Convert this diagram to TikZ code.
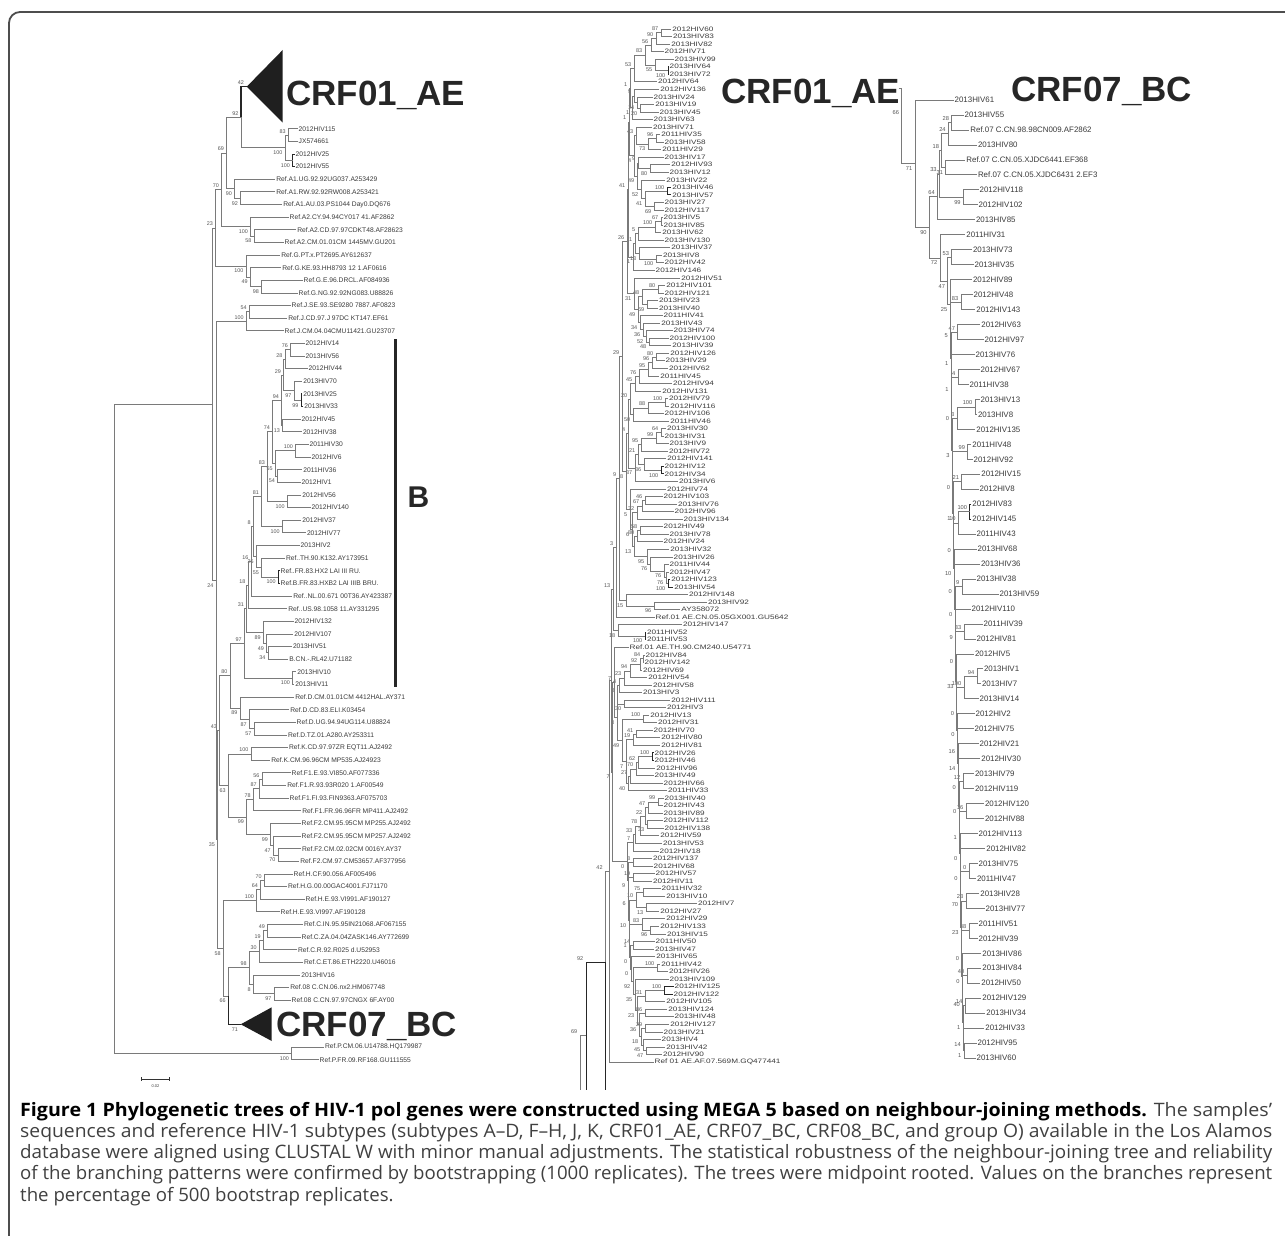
\documentclass[tikz,border=0pt]{standalone}
\usepackage{tikz}
\usepackage{graphicx}
\usepackage{fontspec}
\setmainfont{Liberation Sans}
\newfontfamily\capfont{Open Sans}
\usetikzlibrary{calc}

\definecolor{brcol}{HTML}{7A7A7A}
\definecolor{lfcol}{HTML}{3A3A3A}
\definecolor{bscol}{HTML}{555555}
\definecolor{framecol}{HTML}{4D4D4D}
\definecolor{bigcol}{HTML}{262626}
\definecolor{capcol}{HTML}{404040}

\newsavebox\capbox
\newlength\capL
\newcommand{\bsfont}{\fontsize{5.4}{5.4}\selectfont}
% bootstrap value of a node, set when the node is made
\newcommand{\setbl}[2]{\expandafter\xdef\csname bl@#1\endcsname{#2}}
\newcommand{\bslabel}[2]{\ifcsname bl@#1\endcsname\node[#2] at (#1) {\csname bl@#1\endcsname};\fi}
% inner node: [style]{name}{x}{upper child}{lower child}{bootstrap}
\newcommand{\nd}[6][br]{%
  \coordinate (#2-m) at ($(#4)!0.5!(#5)$);
  \coordinate (#2-x) at (#3,0);
  \coordinate (#2) at (#2-x |- #2-m);
  \draw[#1] (#2) |- (#4);
  \draw[#1] (#2) |- (#5);
  \setbl{#2}{#6}%
  \bslabel{#4}{bsa}\bslabel{#5}{bsb}%
}

\begin{document}
\sbox\capbox{\capfont\fontsize{18.5}{18.5}\selectfont of the branching patterns were confirmed by bootstrapping (1000 replicates). The trees were midpoint rooted. Values on the branches represent}%
\setlength\capL{\wd\capbox}%
\pgfmathsetmacro\capsx{1252/\capL}%
\begin{tikzpicture}[x=1pt, y=-1pt,
    br/.style={draw=brcol, line width=0.75pt},
    blk/.style={draw=black!85, line width=0.9pt},
    bsa/.style={anchor=south east, xshift=-2.2pt, yshift=1.4pt, inner sep=0.3pt, font=\bsfont, text=bscol},
    bsb/.style={anchor=north east, xshift=-2.2pt, yshift=-2.6pt, inner sep=0.3pt, font=\bsfont, text=bscol},
    lfa/.style={anchor=west, inner sep=1pt, font=\fontsize{6.7}{6.7}\selectfont, text=lfcol},
    lfm/.style={anchor=west, inner sep=1pt, font=\fontsize{8.2}{8.2}\selectfont, text=lfcol},
    lfr/.style={anchor=west, inner sep=1pt, font=\fontsize{7.9}{7.9}\selectfont, text=lfcol},
    big/.style={anchor=base west, inner sep=0pt, font=\fontsize{35}{35}\selectfont\bfseries, text=bigcol},
    capl/.style={anchor=base west, inner sep=0pt, font=\capfont\fontsize{18.5}{18.5}\selectfont, text=capcol}
  ]
\useasboundingbox (0,0) rectangle (1285,1236);

% ----- frame -----
\coordinate (fbl) at (9,1236);
\coordinate (ftl) at (9,12);
\coordinate (ftr) at (1285,12);
\draw[framecol, line width=1.8pt, rounded corners=11pt] (fbl) -- (ftl) -- (ftr);

% ===== left tree =====
\foreach \i/\x/\t in {0/299/2012HIV115, 1/299/JX574661, 2/296/2012HIV25, 3/296/2012HIV55,
    4/276.7/Ref.A1.UG.92.92UG037.A253429, 5/276.7/Ref.A1.RW.92.92RW008.A253421,
    6/283.7/Ref.A1.AU.03.PS1044 Day0.DQ676, 7/290/Ref.A2.CY.94.94CY017 41.AF2862,
    8/297.7/Ref.A2.CD.97.97CDKT48.AF28623, 9/285/Ref.A2.CM.01.01CM 1445MV.GU201,
    10/281.7/Ref.G.PT.x.PT2695.AY612637, 11/282.7/Ref.G.KE.93.HH8793 12 1.AF0616,
    12/304/Ref.G.E.96.DRCL.AF084936, 13/299/Ref.G.NG.92.92NG083.U88826,
    14/292/Ref.J.SE.93.SE9280 7887.AF0823, 15/288.7/Ref.J.CD.97.J 97DC KT147.EF61,
    16/285/Ref.J.CM.04.04CMU11421.GU23707, 17/306/2012HIV14, 18/306/2013HIV56,
    19/309/2012HIV44, 20/303.7/2013HIV70, 21/303.7/2013HIV25, 22/304.7/2013HIV33,
    23/302/2012HIV45, 24/303.3/2012HIV38, 25/310/2011HIV30, 26/312/2012HIV6,
    27/303.7/2011HIV36, 28/302/2012HIV1, 29/302.7/2012HIV56, 30/312/2012HIV140,
    31/302.7/2012HIV37, 32/307.3/2012HIV77, 33/301/2013HIV2,
    34/286.3/Ref..TH.90.K132.AY173951, 35/281/Ref..FR.83.HX2 LAI III RU.,
    36/281/Ref.B.FR.83.HXB2 LAI IIIB BRU., 37/293.7/Ref..NL.00.671 00T36.AY423387,
    38/288.7/Ref..US.98.1058 11.AY331295, 39/295/2012HIV132, 40/294.7/2012HIV107,
    41/293.3/2013HIV51, 42/289.7/B.CN.-.RL42.U71182, 43/297.7/2013HIV10, 44/295.7/2013HIV11,
    45/295.7/Ref.D.CM.01.01CM 4412HAL.AY371, 46/290.7/Ref.D.CD.83.ELI.K03454,
    47/297/Ref.D.UG.94.94UG114.U88824, 48/288.3/Ref.D.TZ.01.A280.AY253311,
    49/289.3/Ref.K.CD.97.97ZR EQT11.AJ2492, 50/271.7/Ref.K.CM.96.96CM MP535.AJ24923,
    51/292/Ref.F1.E.93.VI850.AF077336, 52/287.7/Ref.F1.R.93.93R020 1.AF00549,
    53/290/Ref.F1.FI.93.FIN9363.AF075703, 54/302.7/Ref.F1.FR.96.96FR MP411.AJ2492,
    55/302/Ref.F2.CM.95.95CM MP255.AJ2492, 56/302/Ref.F2.CM.95.95CM MP257.AJ2492,
    57/302.3/Ref.F2.CM.02.02CM 0016Y.AY37, 58/300.7/Ref.F2.CM.97.CM53657.AF377956,
    59/294/Ref.H.CF.90.056.AF005496, 60/288.3/Ref.H.G.00.00GAC4001.FJ71170,
    61/306/Ref.H.E.93.VI991.AF190127, 62/281/Ref.H.E.93.VI997.AF190128,
    63/304.3/Ref.C.IN.95.95IN21068.AF067155, 64/302/Ref.C.ZA.04.04ZASK146.AY772699,
    65/298.3/Ref.C.R.92.R025 d.U52953, 66/304.3/Ref.C.ET.86.ETH2220.U46016,
    67/301.7/2013HIV16, 68/290.7/Ref.08 C.CN.06.nx2.HM067748,
    69/292/Ref.08 C.CN.97.97CNGX 6F.AY00}{
  \coordinate (a\i) at ({\x-1.5},{128.7+12.63*\i});
  \node[lfa] (ta\i) at (a\i) {\t};
}
\coordinate (ap1) at (323.8,1047);
\node[lfa] (tap1) at (ap1) {Ref.P.CM.06.U14788.HQ179987};
\coordinate (ap2) at (318.5,1059.7);
\node[lfa] (tap2) at (ap2) {Ref.P.FR.09.RF168.GU111555};

% collapsed clades
\coordinate (lt01) at (246.7,86.7);
\fill[black!88] (lt01) -- (282.7,50) -- (282.7,122.7) -- cycle;
\coordinate (lt07) at (240.7,1024.3);
\fill[black!88] (lt07) -- (271.7,1007.3) -- (271.7,1041) -- cycle;
\setbl{lt01}{42}
\setbl{lt07}{71}

% A, G, J
\nd{lc01}{288.3}{a0}{a1}{83}
\nd[blk]{lc23}{292.7}{a2}{a3}{100}
\nd{lcA}{285}{lc01}{lc23}{100}
\nd{ln42}{241}{lt01}{lcA}{92}
\nd{la1b}{240.7}{a5}{a6}{92}
\nd{la1}{234.7}{a4}{la1b}{90}
\nd{ln69}{226.7}{ln42}{la1}{69}
\nd{la2b}{254}{a8}{a9}{58}
\nd{la2}{250.7}{a7}{la2b}{100}
\nd{ln70}{221.7}{ln69}{la2}{70}
\nd{lg2}{261.7}{a12}{a13}{98}
\nd{lg1}{250.3}{a11}{lg2}{49}
\nd{lg}{246}{a10}{lg1}{100}
\nd{ln23}{215.7}{ln70}{lg}{23}
\nd{lj1}{249.3}{a14}{a15}{54}
\nd{lj}{246.3}{lj1}{a16}{100}
% B
\nd{lb1}{290.7}{a17}{a18}{76}
\nd{lb2}{285}{lb1}{a19}{28}
\nd[blk]{lb3}{301}{a21}{a22}{99}
\nd{lb4}{294}{a20}{lb3}{97}
\nd{lb5}{283.7}{lb2}{lb4}{29}
\nd{lb6}{282.7}{a23}{a24}{13}
\nd{lb7}{281.7}{lb5}{lb6}{94}
\nd{lb10}{295.7}{a25}{a26}{100}
\nd{lb11}{277.7}{a27}{a28}{54}
\nd{lb12}{275.3}{lb10}{lb11}{55}
\nd{lb8}{272.7}{lb7}{lb12}{74}
\nd{lb13}{287.3}{a29}{a30}{100}
\nd{lb14}{267.7}{lb8}{lb13}{83}
\nd{lb15}{282.3}{a31}{a32}{100}
\nd{lb16}{261.7}{lb14}{lb15}{81}
\nd[blk]{lb17}{278.3}{a35}{a36}{100}
\nd{lb18}{261.7}{a34}{lb17}{55}
\nd{lb19}{256.3}{a33}{lb18}{25}
\nd{lb20}{253.3}{lb16}{lb19}{8}
\nd{lb21}{251}{lb20}{a37}{16}
\nd{lb22}{248}{lb21}{a38}{18}
\nd{lb23}{268}{a41}{a42}{34}
\nd{lb24}{266.7}{a40}{lb23}{49}
\nd{lb25}{263.3}{a39}{lb24}{89}
\nd{lb27}{246.7}{lb22}{lb25}{31}
\nd{lb26}{292.7}{a43}{a44}{100}
\nd{lb28}{244.3}{lb27}{lb26}{97}
% D, K, F
\nd{ld3}{254}{a47}{a48}{57}
\nd{ld2}{249.3}{a46}{ld3}{87}
\nd{ld1}{240}{a45}{ld2}{89}
\nd{ln80}{230}{lb28}{ld1}{80}
\nd{lk}{251}{a49}{a50}{100}
\nd{lf1a}{262}{a51}{a52}{56}
\nd{lf1b}{259.3}{lf1a}{a53}{87}
\nd{lf1}{253.3}{lf1b}{a54}{78}
\nd{lf2c}{278}{a57}{a58}{70}
\nd{lf2b}{273.3}{a56}{lf2c}{47}
\nd{lf2}{270.7}{a55}{lf2b}{99}
\nd{lf}{246.7}{lf1}{lf2}{99}
\nd{ln63}{228.3}{lk}{lf}{63}
\nd{ln43}{219.5}{ln80}{ln63}{43}
% H, C
\nd{lh1}{264.3}{a59}{a60}{70}
\nd{lh2}{260.7}{lh1}{a61}{64}
\nd{lh}{256.7}{lh2}{a62}{100}
\nd{lc1}{267.7}{a63}{a64}{49}
\nd{lc2}{263.3}{lc1}{a65}{19}
\nd{lc3}{259.3}{lc2}{a66}{30}
\nd{lc08}{274}{a68}{a69}{97}
\nd{lcb}{253.3}{a67}{lc08}{8}
\nd{lC}{249.3}{lc3}{lcb}{98}
\nd{ln66}{228.3}{lC}{lt07}{66}
\nd{ln58}{223.3}{lh}{ln66}{58}
\nd{ln35}{217.5}{ln43}{ln58}{35}
\nd{ln24}{216}{lj}{ln35}{24}
\nd{lTop}{212.3}{ln23}{ln24}{}
\nd{lP}{291.7}{ap1}{ap2}{100}
\nd{lroot}{114.7}{lTop}{lP}{}
\draw[blk, line width=1.1pt] (ln42) |- (lt01);
\draw[blk, line width=1.1pt] (ln66) |- (lt07);

% labels and bar
\node[big] (crfA) at (286,106) {CRF01\_AE};
\node[big] (crfB) at (276,1036.5) {CRF07\_BC};
\coordinate (bTop) at (395,339);
\coordinate (bBot) at (395,686.7);
\draw[black!85, line width=3pt] (bTop) -- (bBot);
\node[anchor=base west, inner sep=0pt, font=\fontsize{30}{30}\selectfont\bfseries, text=bigcol] (subB) at (407.5,507.5) {B};

% scale bar
\coordinate (sb1) at (141.7,1079);
\coordinate (sb2) at (169.3,1079);
\draw[black!80, line width=0.8pt] (sb1) -- (sb2);
\draw[black!80, line width=0.8pt] ([yshift=2pt]sb1) -- ([yshift=-2pt]sb1);
\draw[black!80, line width=0.8pt] ([yshift=2pt]sb2) -- ([yshift=-2pt]sb2);
\node[font=\fontsize{4}{4}\selectfont, text=lfcol, inner sep=0pt] (sbl) at (155.5,1086.5) {0.02};

% ===== middle tree =====
\renewcommand{\bsfont}{\fontsize{5.5}{5.5}\selectfont}
\tikzset{br/.style={draw=brcol, line width=0.6pt}}
\foreach \i/\x/\t in {0/672.7/2012HIV60, 1/673.3/2013HIV83, 2/671.7/2013HIV82, 3/665/2012HIV71,
    4/675/2013HIV99, 5/670/2013HIV64, 6/670/2013HIV72, 7/658.3/2012HIV64, 8/660.7/2012HIV136,
    9/654/2013HIV24, 10/655.7/2013HIV19, 11/660/2013HIV45, 12/654/2013HIV63, 13/653.3/2013HIV71,
    14/661.7/2011HIV35, 15/665/2013HIV58, 16/662.7/2011HIV29, 17/665/2013HIV17, 18/671.7/2012HIV93,
    19/670/2013HIV12, 20/666.7/2013HIV22, 21/672.7/2013HIV46, 22/672.7/2013HIV57, 23/665/2013HIV27,
    24/665/2012HIV117, 25/664/2013HIV5, 26/664/2013HIV85, 27/662.7/2013HIV62, 28/665/2013HIV130,
    29/671.7/2013HIV37, 30/663.3/2013HIV8, 31/665/2012HIV42, 32/656/2012HIV146, 33/681.7/2012HIV51,
    34/666.7/2012HIV101, 35/665/2012HIV121, 36/659.3/2013HIV23, 37/659.3/2013HIV40, 38/664/2011HIV41,
    39/661.7/2013HIV43, 40/674/2013HIV74, 41/670/2012HIV100, 42/672.7/2013HIV39, 43/670.7/2012HIV126,
    44/666/2013HIV29, 45/669.3/2012HIV62, 46/660.7/2011HIV45, 47/673.3/2012HIV94, 48/662.7/2012HIV131,
    49/669.3/2012HIV79, 50/670.7/2012HIV116, 51/665/2012HIV106, 52/670.7/2011HIV46, 53/667.3/2013HIV30,
    54/665/2013HIV31, 55/670/2013HIV9, 56/669.3/2012HIV72, 57/667.7/2012HIV141, 58/665/2012HIV12,
    59/665/2012HIV34, 60/679.3/2013HIV6, 61/667.3/2012HIV74, 62/664/2012HIV103, 63/678.3/2013HIV76,
    64/675/2012HIV96, 65/684/2013HIV134, 66/664/2012HIV49, 67/670/2013HIV78, 68/664/2012HIV24,
    69/670.7/2013HIV32, 70/674/2013HIV26, 71/670/2011HIV44, 72/670/2012HIV47, 73/671.7/2012HIV123,
    74/674.7/2013HIV54, 75/689.3/2012HIV148, 76/708.3/2013HIV92, 77/681.7/AY358072,
    78/656/Ref.01 AE.CN.05.05GX001.GU5642, 79/683.3/2012HIV147, 80/647.3/2011HIV52, 81/647.3/2011HIV53,
    82/630/Ref.01 AE.TH.90.CM240.U54771, 83/646/2012HIV84, 84/645/2012HIV142, 85/643.3/2012HIV69,
    86/648.7/2012HIV54, 87/653.3/2012HIV58, 88/643.3/2013HIV3, 89/671.7/2012HIV111, 90/667.3/2012HIV3,
    91/650.7/2012HIV13, 92/658.3/2012HIV31, 93/654/2012HIV70, 94/661.7/2012HIV80, 95/661.7/2012HIV81,
    96/655/2012HIV26, 97/655/2012HIV46, 98/656.7/2012HIV96, 99/655/2013HIV49, 100/664/2012HIV66,
    101/668.3/2011HIV33, 102/665/2013HIV40, 103/664/2012HIV43, 104/664/2013HIV89, 105/664/2012HIV112,
    106/665/2012HIV138, 107/660.7/2012HIV59, 108/663.3/2013HIV53, 109/660/2012HIV18, 110/653.3/2012HIV137,
    111/654/2012HIV68, 112/656/2012HIV57, 113/653.3/2012HIV11, 114/662/2011HIV32, 115/666.7/2013HIV10,
    116/698.3/2012HIV7, 117/660.7/2012HIV27, 118/666.7/2012HIV29, 119/660.7/2012HIV133, 120/667.3/2013HIV15,
    121/656/2011HIV50, 122/655.3/2013HIV47, 123/656.7/2013HIV65, 124/661.7/2011HIV42, 125/669.3/2012HIV26,
    126/670/2013HIV109, 127/675/2012HIV125, 128/674/2012HIV122, 129/666.7/2012HIV105, 130/668.7/2013HIV124,
    131/675/2013HIV48, 132/670.7/2012HIV127, 133/664/2013HIV21, 134/662/2013HIV4, 135/666.7/2013HIV42,
    136/663.3/2012HIV90, 137/655/Ref 01 AE.AF.07.569M.GQ477441}{
  \coordinate (k\i) at ({\x-1.5},{29+7.54*\i});
  \node[lfm] (tk\i) at (k\i) {\scalebox{1}[0.78]{\t}};
}

% upper part
\nd{m01}{661}{k0}{k1}{87}
\nd{m02}{656}{m01}{k2}{90}
\nd{m03}{651}{m02}{k3}{56}
\nd[blk]{m56}{668}{k5}{k6}{100}
\nd{m46}{655}{k4}{m56}{55}
\nd{m06}{645}{m03}{m46}{83}
\nd{m07}{634}{m06}{k7}{53}
\nd{m1011}{640}{k10}{k11}{20}
\nd{m911}{637}{k9}{m1011}{14}
\nd{m811}{634}{k8}{m911}{9}
\nd{m812}{632}{m811}{k12}{1}
\nd{m1415}{656}{k14}{k15}{96}
\nd{m1416}{648}{m1415}{k16}{73}
\nd{m1316}{636}{k13}{m1416}{43}
\nd{m1819}{650}{k18}{k19}{80}
\nd{m1719}{638}{k17}{m1819}{9}
\nd[blk]{m2122}{667}{k21}{k22}{100}
\nd{m2324}{654}{k23}{k24}{69}
\nd{m2124}{645}{m2122}{m2324}{41}
\nd{m2024}{641}{k20}{m2124}{52}
\nd{m1724}{637}{m1719}{m2024}{49}
\nd{m1324}{634}{m1316}{m1724}{4}
\nd{m2526}{661}{k25}{k26}{67}
\nd{m2527}{655}{m2526}{k27}{100}
\nd{m2528}{638}{m2527}{k28}{5}
\nd{m3031}{656}{k30}{k31}{100}
\nd{m2931}{639}{k29}{m3031}{13}
\nd{m2531}{635}{m2528}{m2931}{1}
\nd{m2532}{633}{m2531}{k32}{1}
\nd{m3435}{658}{k34}{k35}{80}
\nd{m3637}{647}{k36}{k37}{69}
\nd{m3437}{642}{m3435}{m3637}{48}
\nd{m4142}{649}{k41}{k42}{48}
\nd{m4042}{646}{k40}{m4142}{52}
\nd{m3942}{643}{k39}{m4042}{36}
\nd{m3842}{640}{k38}{m3942}{34}
\nd{m3442}{638}{m3437}{m3842}{49}
\nd{m3342}{634}{k33}{m3442}{31}
\nd{m4344}{656}{k43}{k44}{80}
\nd{m4345}{652}{m4344}{k45}{96}
\nd{m4346}{648}{m4345}{k46}{95}
\nd{m4347}{639}{m4346}{k47}{76}
\nd{m4348}{635}{m4347}{k48}{45}
\nd{m4950}{665}{k49}{k50}{100}
\nd{m4951}{648}{m4950}{k51}{88}
\nd{m4952}{633}{m4951}{k52}{50}
\nd{m5354}{661}{k53}{k54}{64}
\nd{m5355}{656}{m5354}{k55}{99}
\nd{m5356}{641}{m5355}{k56}{95}
\nd[blk]{m5859}{661}{k58}{k59}{100}
\nd{m5759}{644}{k57}{m5859}{36}
\nd{m5359}{638}{m5356}{m5759}{21}
\nd{m5360}{635}{m5359}{k60}{37}
\nd{m6263}{645}{k62}{k63}{46}
\nd{m6264}{642}{m6263}{k64}{67}
\nd{m6265}{637}{m6264}{k65}{32}
\nd{m6667}{640}{k66}{k67}{58}
\nd{m6668}{637}{m6667}{k68}{80}
\nd[blk]{m7374}{668}{k73}{k74}{100}
\nd{m7274}{666}{k72}{m7374}{76}
\nd{m7174}{664}{k71}{m7274}{76}
\nd{m7074}{650}{k70}{m7174}{76}
\nd{m6974}{647}{k69}{m7074}{95}
\nd{m6674}{634}{m6668}{m6974}{13}
\nd{m6574}{632}{m6265}{m6674}{6}
\nd{m6174}{630}{k61}{m6574}{5}
\nd{m7677}{654}{k76}{k77}{96}
\nd{m7577}{626}{k75}{m7677}{15}
\nd{ms1}{630}{m07}{m812}{1}
\nd{ms2}{629}{ms1}{m1324}{1}
\nd{ms3}{628}{ms2}{m2532}{41}
\nd{ms4}{627}{ms3}{m3342}{26}
\nd{ms5}{630}{m4348}{m4952}{20}
\nd{ms6}{628}{ms5}{m5360}{4}
\nd{ms7}{626}{ms6}{m6174}{8}
\nd{ms8}{622}{ms4}{ms7}{29}
\nd{ms9}{619}{ms8}{m7577}{9}
\nd{ms10}{616}{ms9}{k78}{3}
\nd[blk]{m8081}{645}{k80}{k81}{100}
\nd{m7981}{618}{k79}{m8081}{18}
\nd{mA}{613}{ms10}{m7981}{13}
% lower part
\nd{m8384}{643}{k83}{k84}{84}
\nd{m8385}{640}{m8384}{k85}{92}
\nd{m8386}{630}{m8385}{k86}{94}
\nd{m8387}{624}{m8386}{k87}{23}
\nd{m8388}{619}{m8387}{k88}{4}
\nd{m8990}{624}{k89}{k90}{30}
\nd{m8390}{617.5}{m8388}{m8990}{8}
\nd{m9192}{643}{k91}{k92}{100}
\nd{m9394}{636}{k93}{k94}{41}
\nd{m9395}{633}{m9394}{k95}{19}
\nd[blk]{m9697}{652}{k96}{k97}{100}
\nd{m9698}{638}{m9697}{k98}{62}
\nd{m9699}{636}{m9698}{k99}{70}
\nd{m96100}{630}{m9699}{k100}{27}
\nd{m96101}{628}{m96100}{k101}{40}
\nd{m93101}{626}{m9395}{m96101}{7}
\nd{m91101}{622}{m9192}{m93101}{49}
\nd{mb1}{617}{m8390}{m91101}{3}
\nd{mb0}{614}{k82}{mb1}{7}
\nd{m102103}{658}{k102}{k103}{99}
\nd{m102104}{648}{m102103}{k104}{47}
\nd{m105106}{647}{k105}{k106}{33}
\nd{m102106}{645}{m102104}{m105106}{22}
\nd{m102107}{640}{m102106}{k107}{78}
\nd{m102108}{635}{m102107}{k108}{33}
\nd{m102109}{633}{m102108}{k109}{7}
\nd{m110111}{633}{k110}{k111}{8}
\nd{m112113}{633}{k112}{k113}{19}
\nd{m114115}{643}{k114}{k115}{75}
\nd{m116117}{646}{k116}{k117}{13}
\nd{m114117}{636}{m114115}{m116117}{10}
\nd{m119120}{650}{k119}{k120}{96}
\nd{m118120}{642}{k118}{m119120}{83}
\nd{m121122}{633}{k121}{k122}{14}
\nd{m124125}{657}{k124}{k125}{100}
\nd[blk]{m127128}{664}{k127}{k128}{100}
\nd{m127129}{645}{m127128}{k129}{31}
\nd{m130131}{645}{k130}{k131}{86}
\nd{m132133}{645}{k132}{k133}{29}
\nd{m135136}{646}{k135}{k136}{47}
\nd{m134136}{643}{k134}{m135136}{45}
\nd{m132136}{641}{m132133}{m134136}{18}
\nd{m130136}{639}{m130131}{m132136}{36}
\nd{m127136}{637}{m127129}{m130136}{23}
\nd{m126136}{635}{k126}{m127136}{35}
\nd{m124136}{633}{m124125}{m126136}{92}
\nd{m123136}{631}{k123}{m124136}{0}
\nd{mt1}{630}{m121122}{m123136}{0}
\nd{mt2}{629.5}{m118120}{mt1}{1}
\nd{mt3}{629}{m114117}{mt2}{10}
\nd{mt4}{628.5}{m112113}{mt3}{6}
\nd{mt5}{628}{m110111}{mt4}{9}
\nd{mt6}{627}{m102109}{mt5}{0}
\nd{mB}{612.5}{mb0}{mt6}{7}
\nd{mN13}{611}{mA}{mB}{}
\nd{mN42b}{609.5}{mN13}{k137}{}

% links that leave the panel
\coordinate (mN42) at ($(mN42b)+(-4.2,0)$);
\coordinate (mJ92) at (605.3,962);
\coordinate (mN92) at (586,962);
\coordinate (mN69) at (580,1035);
\coordinate (mE1) at (605.3,1090);
\coordinate (mE2) at (586,1090);
\coordinate (mE3) at (580,1090);
\draw[br] (mN42b) -- (mN42) -- (mJ92);
\draw[blk] (mN92) -- (mJ92) -- (mE1);
\draw[blk] (mN92) -- (mE2);
\draw[br] (mN92 |- mN69) -- (mN69) -- (mE3);
\node[bsa] at (mN42) {42};
\node[bsa] at (mN92) {92};
\node[bsa] at (mN69) {69};
\node[big] (crfC) at (721,104) {CRF01\_AE};

% ===== right tree =====
\renewcommand{\bsfont}{\fontsize{5.7}{5.7}\selectfont}
\tikzset{br/.style={draw=brcol, line width=0.75pt}}
\foreach \i/\x/\t in {0/955/2013HIV61, 1/965/2013HIV55, 2/970.7/Ref.07 C.CN.98.98CN009.AF2862,
    3/978.3/2013HIV80, 4/966.7/Ref.07 C.CN.05.XJDC6441.EF368, 5/978.3/Ref.07 C.CN.05.XJDC6431 2.EF3,
    6/980/2012HIV118, 7/979/2012HIV102, 8/976.3/2013HIV85, 9/966.7/2011HIV31, 10/973.3/2013HIV73,
    11/975/2013HIV35, 12/973.3/2012HIV89, 13/974/2012HIV48, 14/976.7/2012HIV143, 15/981.7/2012HIV63,
    16/985/2012HIV97, 17/976/2013HIV76, 18/981/2012HIV67, 19/970/2011HIV38, 20/981/2013HIV13,
    21/978.3/2013HIV8, 22/976.7/2012HIV135, 23/972.7/2011HIV48, 24/974/2012HIV92, 25/981.7/2012HIV15,
    26/980/2012HIV8, 27/972.7/2012HIV83, 28/972.7/2012HIV145, 29/977/2011HIV43, 30/978/2013HIV68,
    31/981.3/2013HIV36, 32/977/2013HIV38, 33/1000/2013HIV59, 34/972/2012HIV110, 35/984/2011HIV39,
    36/977/2012HIV81, 37/975.3/2012HIV5, 38/984.3/2013HIV1, 39/982.3/2013HIV7, 40/980/2013HIV14,
    41/976/2012HIV2, 42/975/2012HIV75, 43/980/2012HIV21, 44/981.7/2012HIV30, 45/975.3/2013HIV79,
    46/975.3/2012HIV119, 47/985.3/2012HIV120, 48/985.3/2012HIV88, 49/979/2012HIV113, 50/986.7/2012HIV82,
    51/979/2013HIV75, 52/977.3/2011HIV47, 53/980.7/2013HIV28, 54/986/2013HIV77, 55/979/2011HIV51,
    56/979/2012HIV39, 57/982.7/2013HIV86, 58/982.7/2013HIV84, 59/981.7/2012HIV50, 60/982.7/2012HIV129,
    61/986.7/2013HIV34, 62/985.7/2012HIV33, 63/978/2012HIV95, 64/977/2013HIV60}{
  \coordinate (c\i) at ({\x-1.5},{100+14.97*\i});
  \node[lfr] (tc\i) at (c\i) {\t};
}
\nd{r1}{951.7}{c1}{c2}{28}
\nd{r2}{948.3}{r1}{c3}{24}
\nd{r3}{945.7}{c4}{c5}{31}
\nd{r4}{941.7}{r2}{r3}{18}
\nd{r5}{963.3}{c6}{c7}{99}
\nd{r6}{939.3}{r4}{r5}{33}
\nd{r7}{937.5}{r6}{c8}{64}
\nd{r53}{951.7}{c10}{c11}{53}
% small clades on the spine
\nd{r1314}{961}{c13}{c14}{83}
\nd{r1516}{957.7}{c15}{c16}{47}
\nd{r1819}{958}{c18}{c19}{4}
\nd{r2021}{975}{c20}{c21}{100}
\nd{r2022}{957}{r2021}{c22}{3}
\nd{r2324}{967.7}{c23}{c24}{99}
\nd{r2526}{961.7}{c25}{c26}{21}
\nd[blk]{r2728}{969.7}{c27}{c28}{100}
\nd{r2729}{958.3}{r2728}{c29}{10}
\nd{r3233}{962}{c32}{c33}{9}
\nd{r3536}{964}{c35}{c36}{33}
\nd{r3839}{977}{c38}{c39}{94}
\nd{r3840}{964}{r3839}{c40}{100}
\nd{r4546}{963}{c45}{c46}{12}
\nd{r4748}{966}{c47}{c48}{16}
\nd{r5152}{969}{c51}{c52}{0}
\nd{r5354}{966}{c53}{c54}{23}
\nd{r5556}{969}{c55}{c56}{88}
\nd{r5859}{967}{c58}{c59}{40}
\nd{r6061}{965}{c60}{c61}{14}
% spine, built from the bottom
\coordinate (rl33) at (c64);
\foreach \k/\c/\l in {32/c63/1, 31/c62/14, 30/r6061/1, 29/r5859/40, 28/c57/0, 27/r5556/0,
    26/r5354/23, 25/r5152/70, 24/c50/0, 23/c49/0, 22/r4748/1, 21/r4546/0, 20/c44/0, 19/c43/14,
    18/c42/16, 17/c41/0, 16/r3840/0, 15/c37/33, 14/r3536/0, 13/c34/9, 12/r3233/0, 11/c31/0,
    10/c30/10, 9/r2729/0, 8/r2526/1, 7/r2324/0, 6/r2022/3, 5/r1819/0, 4/c17/1, 3/r1516/1,
    2/r1314/5, 1/c12/25}{
  \pgfmathtruncatemacro\kn{\k+1}
  \pgfmathsetmacro\xk{950+0.45*(\k-1)}
  \nd{rl\k}{\xk}{\c}{rl\kn}{\l}
}
\nd{r47}{947.7}{r53}{rl1}{47}
\nd{r72}{940}{c9}{r47}{72}
\nd{r64}{929.3}{r7}{r72}{90}
\nd{r71}{915}{c0}{r64}{71}
\node[bsb] at (r71) {71};
\coordinate (rcut) at (898.5,88);
\coordinate (r66) at (901.7,88);
\draw[br] (rcut) -- (r66) |- (r71);
\node[bsb] at (901.7,107.5) {66};
\node[big] (crfD) at (1011,102) {CRF07\_BC};

% ===== caption =====
\node[capl] (cap1) at (20,1116) {\resizebox{1252pt}{\height}{\textcolor{black}{\bfseries Figure 1 Phylogenetic trees of HIV-1 pol genes were constructed using MEGA 5 based on neighbour-joining methods.} The samples’}};
\node[capl] (cap2) at (20,1137.3) {\resizebox{1252pt}{\height}{sequences and reference HIV-1 subtypes (subtypes A–D, F–H, J, K, CRF01\_AE, CRF07\_BC, CRF08\_BC, and group O) available in the Los Alamos}};
\node[capl] (cap3) at (20,1158.6) {\resizebox{1252pt}{\height}{database were aligned using CLUSTAL W with minor manual adjustments. The statistical robustness of the neighbour-joining tree and reliability}};
\node[capl] (cap4) at (20,1179.9) {\resizebox{1252pt}{\height}{of the branching patterns were confirmed by bootstrapping (1000 replicates). The trees were midpoint rooted. Values on the branches represent}};
\node[capl] (cap5) at (20,1201.2) {\scalebox{\capsx}[1]{the percentage of 500 bootstrap replicates.}};

\end{tikzpicture}
\end{document}
